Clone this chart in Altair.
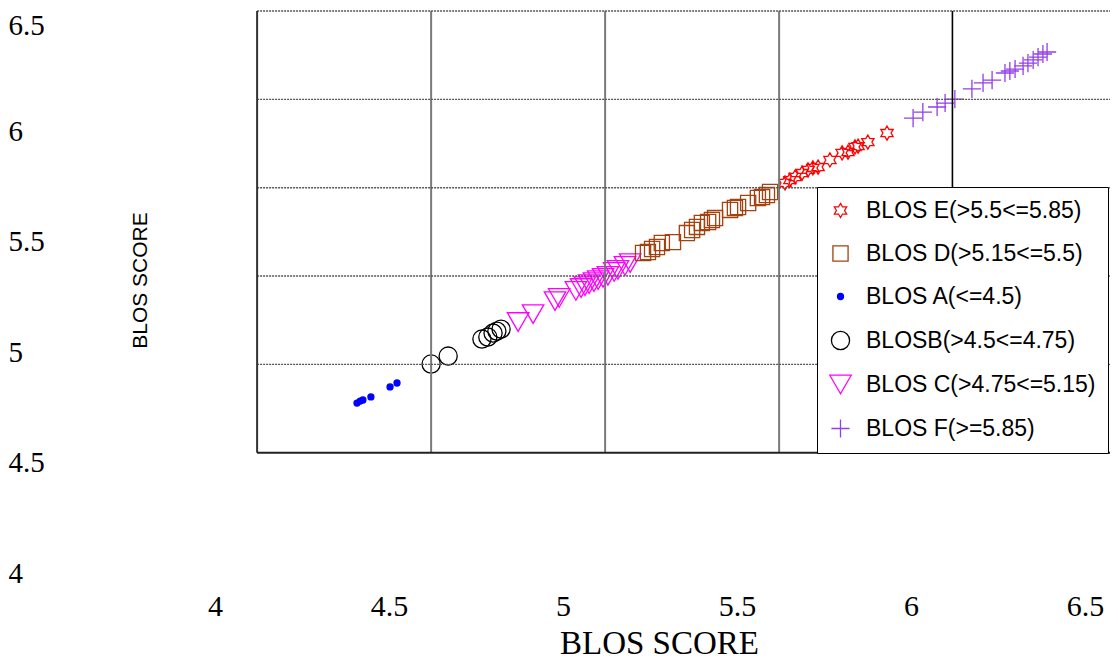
import altair as alt
import pandas as pd

# ---- categories (legend order) ----
classes = ["BLOS E(>5.5<=5.85)", "BLOS D(>5.15<=5.5)", "BLOS A(<=4.5)",
           "BLOSB(>4.5<=4.75)", "BLOS C(>4.75<=5.15)", "BLOS F(>=5.85)"]

# ---- series values (in axis-label units) ----
a_x = [4.408, 4.417, 4.425, 4.448, 4.503, 4.523]
a_y = [4.765, 4.774, 4.779, 4.793, 4.838, 4.856]

b_x = [4.621, 4.670, 4.767, 4.784, 4.799, 4.810, 4.822]
b_y = [4.942, 4.978, 5.055, 5.064, 5.082, 5.091, 5.100]

c_x = [4.871, 4.914, 4.977, 4.989, 5.037, 5.052, 5.063, 5.075, 5.089, 5.101,
       5.115, 5.129, 5.147, 5.158, 5.178, 5.193]
c_y = [5.132, 5.168, 5.227, 5.241, 5.273, 5.286, 5.295, 5.304, 5.313, 5.322,
       5.332, 5.341, 5.359, 5.368, 5.386, 5.399]

d_x = [5.230, 5.244, 5.256, 5.270, 5.284, 5.316, 5.356, 5.371, 5.385, 5.399,
       5.417, 5.428, 5.437, 5.480, 5.494, 5.503, 5.532, 5.560, 5.572, 5.586, 5.595]
d_y = [5.445, 5.449, 5.463, 5.472, 5.490, 5.494, 5.535, 5.549, 5.563, 5.581,
       5.585, 5.594, 5.603, 5.640, 5.649, 5.653, 5.671, 5.694, 5.698, 5.707, 5.721]

e_x = [5.638, 5.652, 5.667, 5.687, 5.704, 5.718, 5.733, 5.767, 5.802, 5.819,
       5.839, 5.848, 5.876, 5.931]
e_y = [5.762, 5.775, 5.789, 5.807, 5.821, 5.830, 5.834, 5.866, 5.898, 5.902,
       5.925, 5.929, 5.947, 5.988]

f_x = [6.006, 6.034, 6.075, 6.098, 6.126, 6.175, 6.207, 6.233, 6.270, 6.284,
       6.299, 6.322, 6.336, 6.351, 6.365, 6.379, 6.391]
f_y = [6.056, 6.083, 6.106, 6.124, 6.142, 6.188, 6.215, 6.228, 6.260, 6.269,
       6.278, 6.292, 6.305, 6.319, 6.332, 6.346, 6.355]

# ---- tick labels ----
x_ticks = [4, 4.5, 5, 5.5, 6, 6.5]
y_ticks = [4, 4.5, 5, 5.5, 6, 6.5]

# ---- frame / grid positions (axis units) ----
X_MIN, X_MAX = 4.0, 6.5718
Y_MIN, Y_MAX = 4.0, 6.5408
frame_left = 4.121
frame_bottom = 4.5405
vgrid_gray = [4.621, 5.121, 5.621]
vgrid_black = [6.119]
hgrid = [4.9405, 5.3405, 5.7405, 6.1405, Y_MAX]

# ---- styles ----
hexagram = ("M0,-1L0.289,-0.5L0.866,-0.5L0.577,0L0.866,0.5L0.289,0.5L0,1"
            "L-0.289,0.5L-0.866,0.5L-0.577,0L-0.866,-0.5L-0.289,-0.5Z")
plus = "M-1,0L1,0M0,-1L0,1"
shapes = [hexagram, "square", "circle", "circle", "triangle-down", plus]
strokes = ["#ff0000", "#a3420f", "#0000ff", "#000000", "#ff00ff", "#9340e6"]
fills = ["transparent", "transparent", "#0000ff", "transparent", "transparent", "transparent"]
sizes = [200, 230, 36, 330, 460, 330]

rows = []
for cls, xs, ys in zip([classes[2], classes[3], classes[4], classes[1], classes[0], classes[5]],
                       [a_x, b_x, c_x, d_x, e_x, f_x],
                       [a_y, b_y, c_y, d_y, e_y, f_y]):
    for xv, yv in zip(xs, ys):
        rows.append({"x": xv, "y": yv, "cls": cls})
pts = pd.DataFrame(rows)

xs_ = alt.Scale(domain=[X_MIN, X_MAX], nice=False, zero=False)
ys_ = alt.Scale(domain=[Y_MIN, Y_MAX], nice=False, zero=False)

x_axis = alt.Axis(values=x_ticks, format="~g", grid=False, domain=False,
                  ticks=False, tickSize=0, labelFlush=False, labelOverlap=False,
                  labelFont="Liberation Serif", labelFontSize=30, labelColor="#000000",
                  labelPadding=19, titleFont="Liberation Serif", titleFontSize=33,
                  titleFontWeight="normal", titleColor="#000000",
                  titleX=444, titleY=81, titleBaseline="alphabetic",
                  titleAlign="center")
y_axis = alt.Axis(values=y_ticks, format="~g", grid=False, domain=False,
                  ticks=False, tickSize=0, labelFlush=False, labelOverlap=False,
                  labelFont="Liberation Serif", labelFontSize=29, labelColor="#000000",
                  labelAlign="left", labelBaseline="middle", labelPadding=207,
                  labelOffset={"condition": {"test": "datum.value >= 6.4", "value": 5},
                               "value": 1},
                  titleFont="Liberation Sans", titleFontSize=21,
                  titleFontWeight="normal", titleColor="#000000",
                  titleX=-75, titleY=269, titleAngle=270,
                  titleBaseline="middle", titleAlign="center")
TITLE = "BLOS SCORE"


def xq(field):
    return alt.X(field, type="quantitative", scale=xs_, axis=x_axis, title=TITLE)


def yq(field):
    return alt.Y(field, type="quantitative", scale=ys_, axis=y_axis, title=TITLE)


vg = pd.DataFrame({"x": vgrid_gray, "y0": frame_bottom, "y1": Y_MAX})
vb = pd.DataFrame({"x": vgrid_black, "y0": frame_bottom, "y1": Y_MAX})
hg = pd.DataFrame({"y": hgrid, "x0": frame_left, "x1": X_MAX})
fl = pd.DataFrame({"x": [frame_left], "y0": frame_bottom, "y1": Y_MAX})
fb = pd.DataFrame({"y": [frame_bottom], "x0": frame_left, "x1": X_MAX})

legend = alt.Legend(title=None, orient="none", legendX=602, legendY=176,
                    fillColor="white", strokeColor="#000000", padding=12,
                    rowPadding=19, labelFont="Liberation Sans", labelFontSize=23,
                    labelColor="#000000", labelOffset=14, labelLimit=400,
                    symbolStrokeWidth=1.3)

points = alt.Chart(pts).mark_point(filled=False, opacity=1, strokeWidth=1.3).encode(
    x=xq("x"),
    y=yq("y"),
    color=alt.Color("cls:N", scale=alt.Scale(domain=classes, range=strokes), legend=legend),
    fill=alt.Fill("cls:N", scale=alt.Scale(domain=classes, range=fills), legend=legend),
    shape=alt.Shape("cls:N", scale=alt.Scale(domain=classes, range=shapes), legend=legend),
    size=alt.Size("cls:N", scale=alt.Scale(type="ordinal", domain=classes, range=sizes),
                  legend=legend),
)

vgray = alt.Chart(vg).mark_rule(color="#7a7a7a", strokeWidth=2).encode(
    x=xq("x"), y=yq("y0"), y2="y1:Q")
vblack = alt.Chart(vb).mark_rule(color="#000000", strokeWidth=1.6).encode(
    x=xq("x"), y=yq("y0"), y2="y1:Q")
hrules = alt.Chart(hg).mark_rule(color="#555555", strokeWidth=1.4, strokeDash=[2, 1]).encode(
    y=yq("y"), x=xq("x0"), x2="x1:Q")
fleft = alt.Chart(fl).mark_rule(color="#333333", strokeWidth=2).encode(
    x=xq("x"), y=yq("y0"), y2="y1:Q")
fbottom = alt.Chart(fb).mark_rule(color="#222222", strokeWidth=2).encode(
    y=yq("y"), x=xq("x0"), x2="x1:Q")

chart = alt.layer(points, vgray, vblack, hrules, fleft, fbottom).properties(
    width=895, height=561,
    autosize=alt.AutoSizeParams(type="none"),
    padding={"left": 207, "top": 3, "right": 0, "bottom": 88},
    background="white",
).configure_view(stroke=None)

chart.save("out.html", embed_options={"renderer": "svg", "actions": False})
